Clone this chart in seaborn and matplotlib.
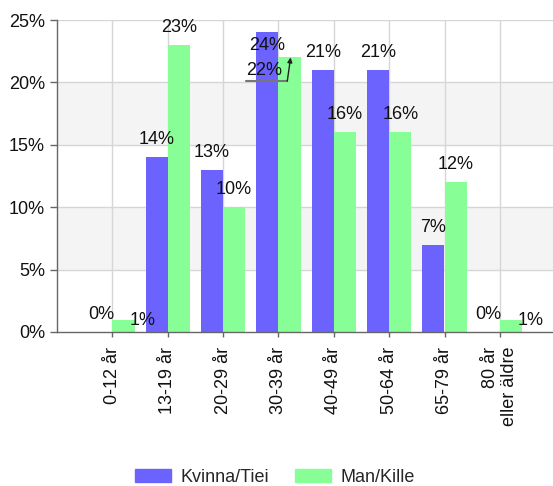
import numpy as np
import pandas as pd
import matplotlib
matplotlib.use('Agg')
import matplotlib.pyplot as plt
import seaborn as sns

#%% data
categories = ['0-12 år', '13-19 år', '20-29 år', '30-39 år', '40-49 år',
              '50-64 år', '65-79 år', '80 år\neller äldre']
kvinna = [0, 14, 13, 24, 21, 21, 7, 0]
man = [1, 23, 10, 22, 16, 16, 12, 1]
series = ['Kvinna/Tiei', 'Man/Kille']
colors = ['#6c63ff', '#88ff96']

df = pd.DataFrame({
    'cat': categories * 2,
    'val': kvinna + man,
    'sex': [series[0]] * len(categories) + [series[1]] * len(categories),
})

#%% plot
sns.set_style('white')
plt.rcParams['font.family'] = ['Liberation Sans', 'DejaVu Sans']
plt.rcParams['font.size'] = 13

fig = plt.figure(figsize=(5.53, 4.86), dpi=100)
ax = fig.add_axes([57/553, 1 - 332/486, 1 - 57/553, 312/486])

# alternating bands + grid
for lo in range(0, 25, 5):
    if (lo // 5) % 2 == 1:
        ax.axhspan(lo, lo + 5, color='#f4f4f4', zorder=0, lw=0)
for y in range(5, 26, 5):
    ax.axhline(y, color='#d6d6d6', lw=1, zorder=0.5)
for i in range(len(categories)):
    ax.axvline(i, color='#d6d6d6', lw=1, zorder=0.5)

sns.barplot(data=df, x='cat', y='val', hue='sex', palette=colors,
            saturation=1, width=0.8, ax=ax, legend=False, zorder=2,
            linewidth=0, edgecolor='none')

ax.set_xlim(-1, 7.96)
ax.set_ylim(0, 25)
ax.set_yticks(range(0, 26, 5))
ax.set_yticklabels([f'{v}%' for v in range(0, 26, 5)])
ax.set_xticks(range(len(categories)))
ax.set_xticklabels(categories, rotation=90, ha='center', va='top',
                   multialignment='right')
ax.set_xlabel('')
ax.set_ylabel('')
ax.tick_params(axis='y', length=5, width=1, pad=3.6, color='#666666',
               left=True, labelcolor='#111111')
ax.tick_params(axis='x', length=3.6, width=1, pad=7, color='#666666',
               bottom=True, labelcolor='#111111')
for s in ['top', 'right']:
    ax.spines[s].set_visible(False)
for s in ['left', 'bottom']:
    ax.spines[s].set_color('#666666')
    ax.spines[s].set_linewidth(1)
    ax.spines[s].set_zorder(3)

#%% value labels
offsets = {(0, 1): (14, -4), (7, 1): (14, -4),
           (3, 0): (0, -12.6), (3, 1): (-18, -12.6)}
for j, vals in enumerate([kvinna, man]):
    for i, v in enumerate(vals):
        xc = i - 0.2 + 0.4 * j
        dx, dy = offsets.get((i, j), (0, 9.4))
        ax.annotate(f'{v}%', xy=(xc, v), xytext=(dx, dy),
                    textcoords='offset points', ha='center', va='baseline',
                    color='#111111', zorder=5, annotation_clip=False)

# leader line for the overlapping 30-39 label
xc = 3 + 0.2
v = man[3]
ax.plot([xc - 0.78, xc - 0.04], [v - 1.9, v - 1.9], color='#777777', lw=1.5, zorder=5)
ax.annotate('', xy=(xc + 0.02, v), xytext=(xc - 0.04, v - 1.9),
            arrowprops=dict(arrowstyle='-|>', color='#222222', lw=1,
                            mutation_scale=7, shrinkA=0, shrinkB=0), zorder=5)

#%% legend
handles = [plt.Rectangle((0, 0), 1, 1, color=c) for c in colors]
fig.legend(handles, series, loc='upper center', bbox_to_anchor=(0.497, 0.036),
           ncol=2, frameon=False, handlelength=2.0, handleheight=0.8,
           handletextpad=0.55, columnspacing=1.4, borderaxespad=0,
           borderpad=0)

fig.savefig('out.png', dpi=100)
